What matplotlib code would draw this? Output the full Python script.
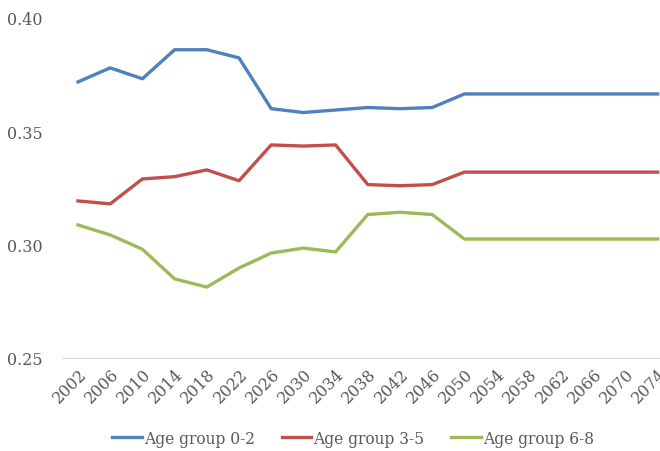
import matplotlib.pyplot as plt

years = list(range(2002, 2075, 4))

age_0_2 = [0.3718, 0.3780, 0.3732, 0.3860, 0.3860, 0.3824, 0.3600, 0.3583, 0.3594,
           0.3605, 0.3600, 0.3605, 0.3665, 0.3665, 0.3665, 0.3665, 0.3665, 0.3665, 0.3665]
age_3_5 = [0.3193, 0.3180, 0.3290, 0.3300, 0.3330, 0.3282, 0.3440, 0.3435, 0.3440,
           0.3265, 0.3260, 0.3265, 0.3320, 0.3320, 0.3320, 0.3320, 0.3320, 0.3320, 0.3320]
age_6_8 = [0.3087, 0.3043, 0.2980, 0.2849, 0.2813, 0.2897, 0.2963, 0.2985, 0.2968,
           0.3133, 0.3143, 0.3133, 0.3025, 0.3025, 0.3025, 0.3025, 0.3025, 0.3025, 0.3025]

series = [("Age group 0-2", age_0_2, "#4F81BD"),
          ("Age group 3-5", age_3_5, "#C0504D"),
          ("Age group 6-8", age_6_8, "#9BBB59")]

plt.rcParams['font.family'] = ['DejaVu Serif']

fig = plt.figure(figsize=(6.6, 4.52), dpi=100)
ax = fig.add_axes([62 / 660, 1 - 359 / 452, 598 / 660, 340 / 452])

for name, vals, col in series:
    ax.plot(years, vals, color=col, lw=2.4, label=name)

ax.set_ylim(0.25, 0.40)
ax.set_xlim(2002 - 16 / 32.2 * 4, 2002 + (660 - 78) / 32.2 * 4)
ax.set_yticks([0.25, 0.30, 0.35, 0.40])
ax.set_yticklabels([f"{v:.2f}" for v in [0.25, 0.30, 0.35, 0.40]])
ax.set_xticks(years)
ax.set_xticklabels([str(y) for y in years], rotation=45, ha='right',
                   rotation_mode='anchor')

for s in ['top', 'right', 'left']:
    ax.spines[s].set_visible(False)
ax.spines['bottom'].set_color('#D9D9D9')
ax.tick_params(axis='both', length=0, labelsize=11.5, colors='#595959')
ax.tick_params(axis='y', pad=14)
ax.tick_params(axis='x', pad=5)

fig.legend(loc='lower center', bbox_to_anchor=(0.535, -0.022), ncol=3,
           frameon=False, fontsize=11.2, handlelength=1.9, handletextpad=0.15,
           columnspacing=1.7, labelcolor='#595959')

fig.savefig("out.png", dpi=100)
